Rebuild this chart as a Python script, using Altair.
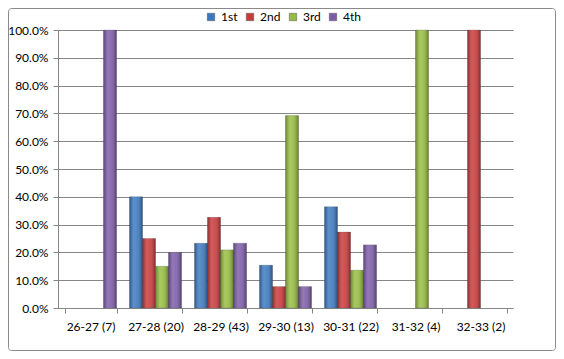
import altair as alt
import pandas as pd

categories = ["26-27 (7)", "27-28 (20)", "28-29 (43)", "29-30 (13)", "30-31 (22)", "31-32 (4)", "32-33 (2)"]
series = ["1st", "2nd", "3rd", "4th"]
colors = ["#3A78C0", "#C8393A", "#96BC3F", "#7C5BA8"]
v1st = [None, 0.40, 0.233, 0.154, 0.364, None, None]
v2nd = [None, 0.25, 0.326, 0.077, 0.273, None, 1.0]
v3rd = [None, 0.15, 0.209, 0.692, 0.136, 1.0, None]
v4th = [1.0, 0.20, 0.233, 0.077, 0.227, None, None]
y_ticks = [0, 0.1, 0.2, 0.3, 0.4, 0.5, 0.6, 0.7, 0.8, 0.9, 1.0]

rows = []
for s, vals in zip(series, [v1st, v2nd, v3rd, v4th]):
    for c, v in zip(categories, vals):
        if v is not None:
            rows.append({"cat": c, "series": s, "value": v})
df = pd.DataFrame(rows)

W, H = 455, 278
FONT = "Lato"

x_scale = alt.Scale(domain=categories, paddingInner=0.2, paddingOuter=0.1)
xo_scale = alt.Scale(domain=series, paddingInner=0, paddingOuter=0)
y_scale = alt.Scale(domain=[0, 1], nice=False)

x_axis = alt.Axis(title=None, labelAngle=0, tickBand="extent", tickSize=5,
                  labelPadding=8, labelFontSize=12, labelFont=FONT,
                  labelColor="#000000", domainColor="#868686",
                  tickColor="#868686", grid=False)
y_axis = alt.Axis(title=None, values=y_ticks, format=".1%", tickSize=5,
                  labelPadding=5, labelFontSize=12, labelFont=FONT,
                  labelOverlap=False, labelColor="#000000",
                  domainColor="#868686", tickColor="#868686",
                  gridColor="#868686", grid=True)

x_enc = alt.X("cat:N", sort=categories, scale=x_scale, axis=x_axis)
xo_enc = alt.XOffset("series:N", scale=xo_scale)
y_enc = alt.Y("value:Q", scale=y_scale, axis=y_axis)

bars = alt.Chart(df).mark_bar(stroke="#444444", strokeWidth=0.4, strokeOpacity=0.6).encode(
    x=x_enc, xOffset=xo_enc, y=y_enc,
    color=alt.Color("series:N", scale=alt.Scale(domain=series, range=colors),
                    legend=alt.Legend(title=None, orient="none", direction="horizontal",
                                      legendX=147, legendY=-19, symbolType="square",
                                      symbolSize=55, symbolStrokeWidth=0.5,
                                      symbolStrokeColor="#555555",
                                      labelFontSize=12, labelFont=FONT,
                                      labelColor="#000000", columnPadding=6,
                                      symbolOpacity=1)),
)

shade = alt.Chart(df).mark_bar(
    color=alt.Gradient(
        gradient="linear", x1=0, x2=1, y1=0, y2=0,
        stops=[
            alt.GradientStop(offset=0, color="rgba(0,0,0,0.30)"),
            alt.GradientStop(offset=0.35, color="rgba(255,255,255,0.18)"),
            alt.GradientStop(offset=0.55, color="rgba(255,255,255,0.12)"),
            alt.GradientStop(offset=1, color="rgba(0,0,0,0.35)"),
        ],
    )
).encode(x=x_enc, xOffset=xo_enc, y=y_enc)

border = alt.Chart(pd.DataFrame({"a": [0]})).mark_rect(
    fill=None, stroke="#8a8a8a", strokeWidth=1, cornerRadius=3
).encode(x=alt.value(-49.5), x2=alt.value(W + 42.5), y=alt.value(-21.5), y2=alt.value(H + 42.5))

chart = alt.layer(bars, shade, border).properties(
    width=W, height=H,
    autosize=alt.AutoSizeParams(type="none"),
    padding={"left": 50, "top": 22, "right": 43, "bottom": 43},
    background="white",
).configure_view(stroke=None)

chart.save("out.html", embed_options={"renderer": "svg", "actions": False})
